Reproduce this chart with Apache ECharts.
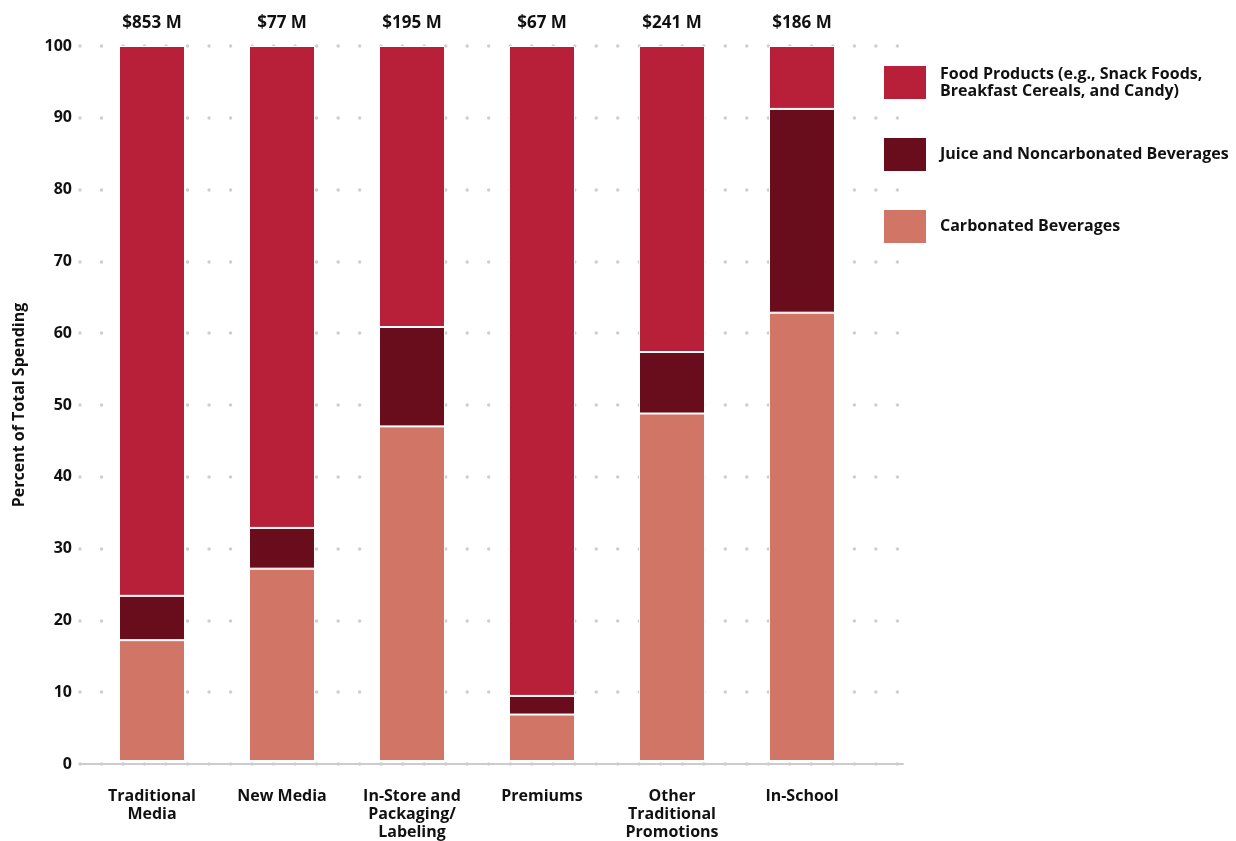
<!DOCTYPE html>
<html>
<head>
<meta charset="utf-8">
<script src="https://cdn.jsdelivr.net/npm/echarts@6/dist/echarts.min.js"></script>
<style>
html,body{margin:0;padding:0;background:#fff;}
#chart{width:1236px;height:841px;}
</style>
</head>
<body>
<div id="chart"></div>
<script>
const categories = ["Traditional\nMedia", "New Media", "In-Store and\nPackaging/\nLabeling", "Premiums", "Other\nTraditional\nPromotions", "In-School"];
const totals = ["$853 M", "$77 M", "$195 M", "$67 M", "$241 M", "$186 M"];
const carbonated = [16.9, 26.9, 46.8, 6.5, 48.6, 62.7];
const juice = [6.2, 5.7, 13.9, 2.6, 8.6, 28.5];
const food = [76.9, 67.4, 39.3, 90.9, 42.8, 8.8];
const yTicks = [0, 10, 20, 30, 40, 50, 60, 70, 80, 90, 100];
const seriesNames = ["Food Products (e.g., Snack Foods,\nBreakfast Cereals, and Candy)", "Juice and Noncarbonated Beverages", "Carbonated Beverages"];

const FONT = "'Open Sans', 'Noto Sans', sans-serif";
const chart = echarts.init(document.getElementById('chart'));
const barStyle = (c) => ({ color: c, borderColor: '#ffffff', borderWidth: 1 });

chart.setOption({
  animation: false,
  textStyle: { fontFamily: FONT },
  grid: [
    { left: 87, right: 369, top: 46, bottom: 77, containLabel: false },
    { left: 80, right: 333, top: 46, bottom: 77, containLabel: false, z: 0 }
  ],
  legend: {
    orient: 'vertical',
    left: 877, top: 59,
    itemWidth: 44, itemHeight: 35, itemGap: 35,
    icon: 'rect',
    data: [seriesNames[0], seriesNames[1], seriesNames[2]],
    textStyle: { fontFamily: FONT, fontWeight: 'bold', fontSize: 16, color: '#111', lineHeight: 17, padding: [0, 0, 0, 8] },
    selectedMode: false
  },
  xAxis: [
    {
      type: 'category', gridIndex: 0,
      data: categories,
      axisLine: { show: false },
      axisTick: { show: false },
      axisLabel: { interval: 0, margin: 26, fontFamily: FONT, fontWeight: 'bold', fontSize: 16, color: '#111', lineHeight: 18 }
    },
    {
      type: 'value', gridIndex: 1, min: 0, max: 1,
      axisLine: { show: true, onZero: false, lineStyle: { color: '#cccccc', width: 2 } },
      axisTick: { show: false }, axisLabel: { show: false }, splitLine: { show: false }
    }
  ],
  yAxis: [
    {
      type: 'value', gridIndex: 0, min: 0, max: 100, interval: 10,
      axisLine: { show: false }, axisTick: { show: false }, axisLabel: { show: false }, splitLine: { show: false }
    },
    {
      type: 'value', gridIndex: 1, min: 0, max: 100, interval: 10,
      name: 'Percent of Total Spending',
      nameLocation: 'middle', nameGap: 53, nameRotate: 90,
      nameTextStyle: { fontFamily: FONT, fontWeight: 'bold', fontSize: 16, color: '#111' },
      axisLine: { show: false }, axisTick: { show: false },
      axisLabel: { margin: 8, fontFamily: FONT, fontWeight: 'bold', fontSize: 16, color: '#111',
        formatter: (v) => yTicks.includes(v) ? String(v) : '' },
      splitLine: { show: true, lineStyle: { color: '#cfcfcf', width: 3.5, type: [0.01, 21.5], cap: 'round' } }
    }
  ],
  series: [
    { name: seriesNames[2], type: 'bar', stack: 's', barWidth: 66, data: carbonated, itemStyle: barStyle('#D17567'), z: 3 },
    { name: seriesNames[1], type: 'bar', stack: 's', barWidth: 66, data: juice, itemStyle: barStyle('#690D1D'), z: 3 },
    { name: seriesNames[0], type: 'bar', stack: 's', barWidth: 66, data: food, itemStyle: barStyle('#B81F38'), z: 3,
      label: { show: true, position: 'top', distance: 14, fontFamily: FONT, fontWeight: 'bold', fontSize: 17, color: '#111',
        formatter: (p) => totals[p.dataIndex] } }
  ]
});
</script>
</body>
</html>
